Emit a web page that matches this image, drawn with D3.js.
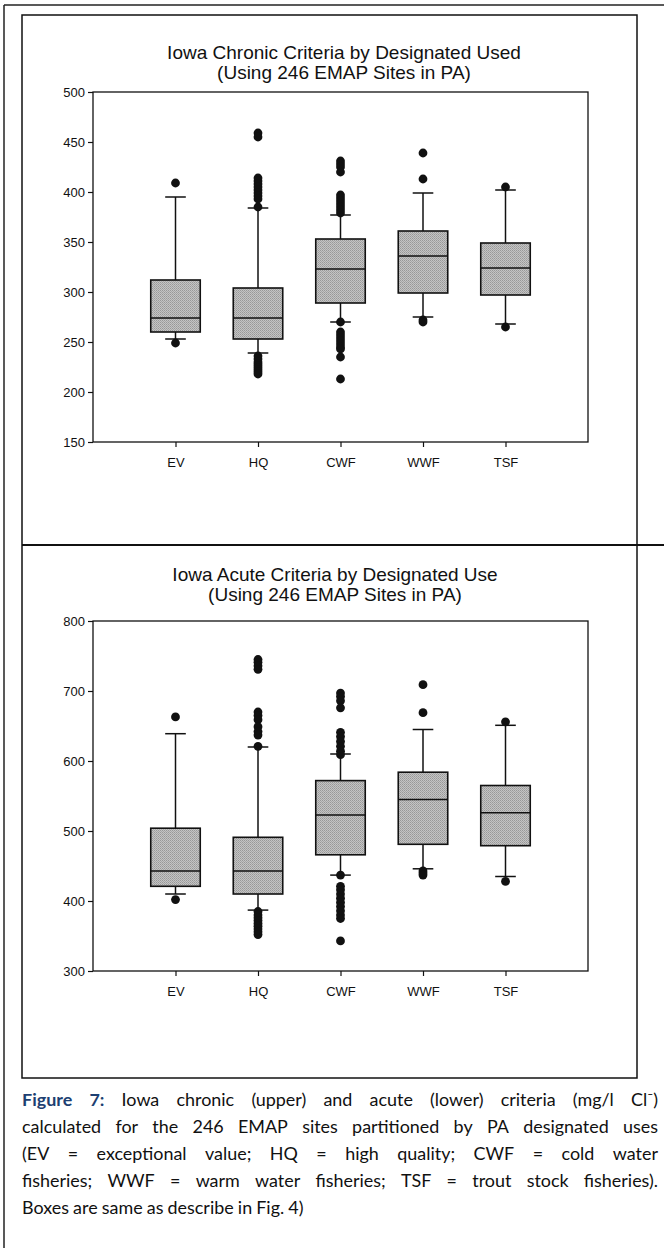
<!DOCTYPE html>
<html>
<head>
<meta charset="utf-8">
<script src="https://cdn.jsdelivr.net/npm/d3@7"></script>
<style>
  body { margin: 0; background: #fff; }
  svg { display: block; }
</style>
</head>
<body>
<div id="container"></div>
<script>
let w = 664;
let h = 1248;

// DATA
let categories = ["EV", "HQ", "CWF", "WWF", "TSF"];

// chronic (upper chart)
let chronicTicks = [150, 200, 250, 300, 350, 400, 450, 500];
let chronicLow = [253, 239, 270, 275, 268];
let chronicQ1 = [260, 253, 289, 299, 297];
let chronicMedian = [274, 274, 323, 336, 324];
let chronicQ3 = [312, 304, 353, 361, 349];
let chronicHigh = [395, 384, 377, 399, 402];
let chronicOutliers = [
  [409, 249],
  [459, 455, 414, 411, 408, 405, 402, 399, 396, 393, 385, 236, 233, 230, 228, 226, 224, 222, 220, 218],
  [431, 428, 425, 420, 397, 394, 391, 388, 385, 382, 379, 270, 260, 257, 254, 251, 248, 245, 243, 235, 213],
  [439, 413, 272, 270],
  [405, 265]
];

// acute (lower chart)
let acuteTicks = [300, 400, 500, 600, 700, 800];
let acuteLow = [410, 387, 437, 446, 435];
let acuteQ1 = [421, 410, 466, 481, 479];
let acuteMedian = [443, 443, 523, 545, 526];
let acuteQ3 = [504, 491, 572, 584, 565];
let acuteHigh = [639, 620, 610, 645, 651];
let acuteOutliers = [
  [663, 402],
  [745, 741, 736, 731, 670, 665, 659, 649, 642, 637, 621, 385, 380, 376, 372, 368, 364, 360, 356, 352],
  [697, 692, 686, 676, 641, 635, 628, 621, 614, 609, 437, 421, 416, 410, 404, 398, 392, 386, 380, 375, 343],
  [709, 669, 443, 440, 437],
  [656, 428]
];

let captionLines = [
  "Figure 7: Iowa chronic (upper) and acute (lower) criteria (mg/l Cl\u207B)",
  "calculated for the 246 EMAP sites partitioned by PA designated uses",
  "(EV = exceptional value; HQ = high quality; CWF = cold water",
  "fisheries; WWF = warm water fisheries; TSF = trout stock fisheries).",
  "Boxes are same as describe in Fig. 4)"
];

let chartFont = "'Liberation Sans', Arial, sans-serif";
let captionFont = "Lato, 'Open Sans', sans-serif";

// SVG
let viz = d3.select("#container").append("svg")
  .attr("width", w)
  .attr("height", h)
  .style("background-color", "white");

// stippled grey fill like the scan
let pat = viz.append("defs").append("pattern")
  .attr("id", "stipple")
  .attr("width", 2).attr("height", 2)
  .attr("patternUnits", "userSpaceOnUse");
pat.append("rect").attr("width", 2).attr("height", 2).attr("fill", "#c4c4c4");
pat.append("rect").attr("width", 1).attr("height", 1).attr("fill", "#989898");
pat.append("rect").attr("x", 1).attr("y", 1).attr("width", 1).attr("height", 1).attr("fill", "#a6a6a6");

// page frames
viz.append("line").attr("x1", 4).attr("x2", 4).attr("y1", 5).attr("y2", h)
  .attr("stroke", "#222").attr("stroke-width", 1.5);
viz.append("line").attr("x1", 4).attr("x2", w).attr("y1", 5).attr("y2", 5)
  .attr("stroke", "#222").attr("stroke-width", 1.5);
viz.append("rect").attr("x", 22).attr("y", 15).attr("width", 615).attr("height", 1063)
  .attr("fill", "none").attr("stroke", "#111").attr("stroke-width", 1.5);
viz.append("line").attr("x1", 22).attr("x2", w).attr("y1", 545).attr("y2", 545)
  .attr("stroke", "#111").attr("stroke-width", 2);

function drawChart(opt) {
  let xScale = d3.scaleLinear().domain([0, 6]).range([93, 588]);
  let yScale = d3.scaleLinear().domain(opt.domain).range([opt.bottom, opt.top]);
  let g = viz.append("g");

  // titles
  g.selectAll(".title").data(opt.title).enter()
    .append("text")
    .attr("x", opt.titleX)
    .attr("y", function(d, i) { return opt.titleY + i * 20; })
    .attr("text-anchor", "middle")
    .style("font-family", chartFont)
    .style("font-size", "19px")
    .attr("fill", "#111")
    .text(function(d) { return d; });

  // axes
  let yAxis = d3.axisLeft(yScale).tickValues(opt.ticks).tickSize(5).tickPadding(3);
  let ya = g.append("g").attr("transform", "translate(93,0)").call(yAxis);
  let xAxis = d3.axisBottom(xScale).tickValues([1, 2, 3, 4, 5])
    .tickFormat(function(d) { return categories[d - 1]; })
    .tickSize(5).tickPadding(11);
  let xa = g.append("g").attr("transform", "translate(0," + opt.bottom + ")").call(xAxis);
  [ya, xa].forEach(function(a) {
    a.select(".domain").remove();
    a.selectAll("line").attr("stroke", "#111").attr("stroke-width", 1.2);
    a.selectAll("text").style("font-family", chartFont).style("font-size", "13px").attr("fill", "#111");
  });

  // plot frame
  g.append("rect")
    .attr("x", xScale(0)).attr("y", opt.top)
    .attr("width", xScale(6) - xScale(0)).attr("height", opt.bottom - opt.top)
    .attr("fill", "none").attr("stroke", "#111").attr("stroke-width", 1.3);

  let halfBox = (xScale(1) - xScale(0)) * 0.3;
  let halfCap = (xScale(1) - xScale(0)) * 0.125;
  let rows = categories.map(function(c, i) {
    return { i: i + 1, low: opt.low[i], q1: opt.q1[i], med: opt.median[i], q3: opt.q3[i], high: opt.high[i], out: opt.outliers[i] };
  });

  let box = g.selectAll(".box").data(rows).enter().append("g").attr("class", "box");
  // whiskers
  box.append("line")
    .attr("x1", function(d) { return xScale(d.i); }).attr("x2", function(d) { return xScale(d.i); })
    .attr("y1", function(d) { return yScale(d.high); }).attr("y2", function(d) { return yScale(d.low); })
    .attr("stroke", "#111").attr("stroke-width", 1.5);
  box.append("line")
    .attr("x1", function(d) { return xScale(d.i) - halfCap; }).attr("x2", function(d) { return xScale(d.i) + halfCap; })
    .attr("y1", function(d) { return yScale(d.high); }).attr("y2", function(d) { return yScale(d.high); })
    .attr("stroke", "#111").attr("stroke-width", 1.5);
  box.append("line")
    .attr("x1", function(d) { return xScale(d.i) - halfCap; }).attr("x2", function(d) { return xScale(d.i) + halfCap; })
    .attr("y1", function(d) { return yScale(d.low); }).attr("y2", function(d) { return yScale(d.low); })
    .attr("stroke", "#111").attr("stroke-width", 1.5);
  // box
  box.append("rect")
    .attr("x", function(d) { return xScale(d.i) - halfBox; })
    .attr("y", function(d) { return yScale(d.q3); })
    .attr("width", halfBox * 2)
    .attr("height", function(d) { return yScale(d.q1) - yScale(d.q3); })
    .attr("fill", "url(#stipple)")
    .attr("stroke", "#111").attr("stroke-width", 1.6);
  box.append("line")
    .attr("x1", function(d) { return xScale(d.i) - halfBox; }).attr("x2", function(d) { return xScale(d.i) + halfBox; })
    .attr("y1", function(d) { return yScale(d.med); }).attr("y2", function(d) { return yScale(d.med); })
    .attr("stroke", "#111").attr("stroke-width", 1.5);
  // outliers
  box.selectAll(".out").data(function(d) { return d.out.map(function(v) { return { i: d.i, v: v }; }); })
    .enter().append("circle")
    .attr("cx", function(d) { return xScale(d.i); })
    .attr("cy", function(d) { return yScale(d.v); })
    .attr("r", 4.4)
    .attr("fill", "#111");
}

drawChart({
  title: ["Iowa Chronic Criteria by Designated Used", "(Using 246 EMAP Sites in PA)"],
  titleX: 344, titleY: 59,
  domain: [150, 500], ticks: chronicTicks, top: 92, bottom: 442,
  low: chronicLow, q1: chronicQ1, median: chronicMedian, q3: chronicQ3, high: chronicHigh, outliers: chronicOutliers
});

drawChart({
  title: ["Iowa Acute Criteria by Designated Use", "(Using 246 EMAP Sites in PA)"],
  titleX: 335, titleY: 581,
  domain: [300, 800], ticks: acuteTicks, top: 621, bottom: 971,
  low: acuteLow, q1: acuteQ1, median: acuteMedian, q3: acuteQ3, high: acuteHigh, outliers: acuteOutliers
});

// CAPTION - justified word by word, last line left aligned
let capLeft = 22, capRight = 658, capTop = 1106, capStep = 27;
let cap = viz.append("g").style("font-family", captionFont).attr("fill", "#111");
// pick the font size so the short last line has the width seen in the scan (~285px)
let probe = cap.append("text").style("font-size", "10px").text(captionLines[4]);
let capSize = 10 * 285 / probe.node().getComputedTextLength();
probe.remove();
cap.style("font-size", capSize + "px");

captionLines.forEach(function(line, li) {
  let words = line.split(" ");
  let y = capTop + li * capStep;
  let texts = words.map(function(wd, wi) {
    let t = cap.append("text").attr("y", y).text(wd);
    if (li === 0 && wi < 2) t.style("font-weight", "bold").attr("fill", "#1d3f72");
    return t;
  });
  let widths = texts.map(function(t) { return t.node().getComputedTextLength(); });
  let total = d3.sum(widths);
  let space = capSize * 0.23;
  let gap = li < captionLines.length - 1 ? (capRight - capLeft - total) / (words.length - 1) : space;
  let x = capLeft;
  texts.forEach(function(t, i) {
    t.attr("x", x);
    x += widths[i] + gap;
  });
});
</script>
</body>
</html>
